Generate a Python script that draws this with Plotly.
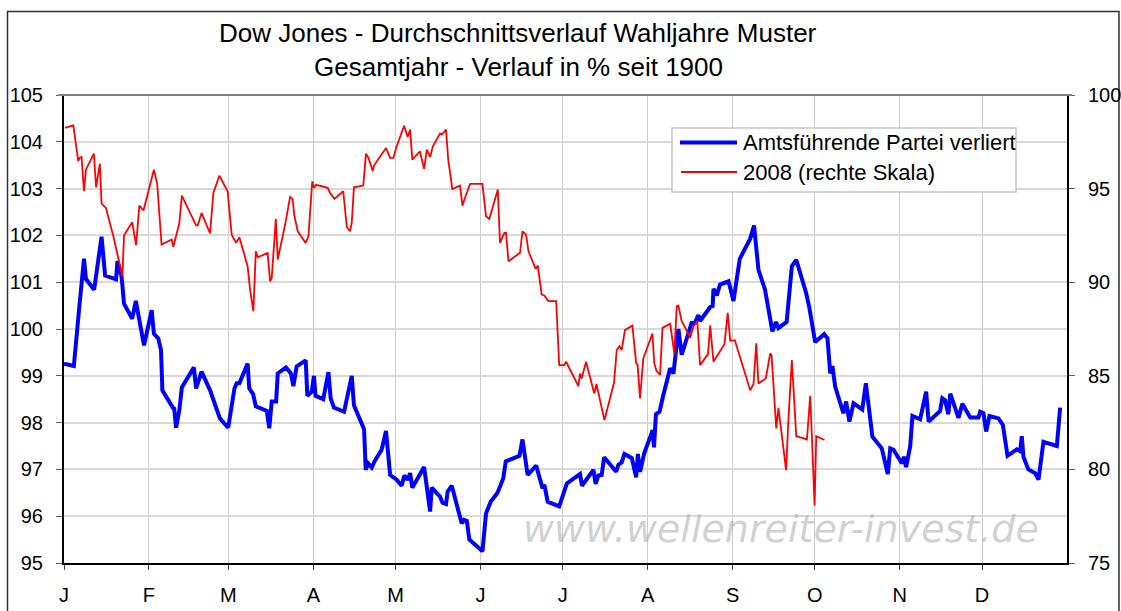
import plotly.graph_objects as go

# ---- data (x = day of year, 2008) ----
month_start_days = [0, 31, 60, 91, 121, 152, 182, 213, 244, 274, 305, 335]
month_labels = ["J", "F", "M", "A", "M", "J", "J", "A", "S", "O", "N", "D"]

blue_days = [0, 3.6, 5.5, 7.3, 8.0, 11.0, 13.7, 15.0, 19.0, 19.5, 21.0, 21.9, 24.9, 26.2, 29.2,
             32.0, 32.8, 34.4, 35.4, 35.9, 39.7, 40.2, 40.9, 42.1, 43.0, 47.4, 48.2, 50.2, 53.3,
             56.9, 59.9, 62.2, 63.0, 64.0, 67.0, 67.6, 69.0, 70.0, 74.0, 74.9, 75.8, 77.4, 78.0,
             81.0, 82.8, 83.7, 84.9, 88.2, 88.8, 90.4, 91.2, 91.8, 94.6, 96.5, 97.3, 98.5, 102.2,
             103.2, 105.0, 105.8, 109.5, 110.1, 111.0, 112.3, 113.5, 115.9, 117.5, 119.0, 121.4,
             123.2, 124.2, 125.4, 126.3, 127.1, 131.4, 133.6, 134.2, 137.2, 138.1, 139.4, 140.0,
             141.5, 145.1, 146.0, 147.0, 147.9, 152.7, 154.0, 155.7, 158.2, 160.3, 161.2, 166.2,
             167.3, 169.2, 172.3, 174.6, 175.3, 176.5, 180.7, 183.5, 188.3, 189.0, 193.2, 194.0,
             195.0, 196.2, 197.1, 201.5, 202.3, 203.5, 204.5, 207.2, 208.8, 209.4, 210.2, 211.7,
             214.8, 215.3, 216.0, 217.3, 218.7, 221.2, 222.4, 224.2, 225.4, 228.4, 229.0, 230.2,
             231.5, 232.1, 235.8, 236.7, 237.0, 238.2, 239.4, 242.5, 244.3, 246.6, 250.4, 251.8,
             253.4, 255.8, 258.5, 259.8, 260.7, 263.7, 265.6, 267.2, 270.8, 272.0, 274.1, 277.4,
             278.6, 279.6, 280.4, 281.4, 284.4, 285.4, 286.6, 288.1, 291.3, 292.6, 295.0, 298.4,
             300.6, 301.5, 302.7, 305.7, 306.5, 307.3, 308.8, 309.6, 312.4, 314.6, 315.5, 319.7,
             320.5, 321.5, 322.7, 323.4, 326.4, 327.8, 330.7, 333.7, 334.3, 335.5, 336.5, 337.7,
             341.0, 342.6, 344.3, 347.7, 348.9, 349.5, 350.1, 351.9, 354.4, 355.6, 357.4, 362.3,
             363.5]
blue_values = [99.26, 99.21, 100.42, 101.5, 101.07, 100.84, 101.97, 101.14, 101.06, 101.45, 101.13,
               100.54, 100.22, 100.6, 99.65, 100.4, 99.9, 99.8, 99.55, 98.69, 98.32, 98.3, 97.89,
               98.27, 98.75, 99.18, 98.73, 99.09, 98.69, 98.09, 97.89, 98.73, 98.84, 98.84, 99.26,
               98.73, 98.61, 98.35, 98.25, 97.88, 98.45, 98.45, 99.05, 99.18, 99.05, 98.78, 99.2,
               99.33, 98.57, 98.66, 99.0, 98.57, 98.5, 99.08, 98.52, 98.32, 98.23, 98.48, 99.0,
               98.37, 97.86, 96.99, 97.13, 97.04, 97.19, 97.42, 97.82, 96.88, 96.78, 96.65, 96.87,
               96.78, 96.92, 96.61, 97.05, 96.1, 96.61, 96.42, 96.29, 96.26, 96.53, 96.65, 95.85,
               95.92, 95.9, 95.5, 95.25, 96.06, 96.31, 96.5, 96.81, 97.17, 97.29, 97.64, 96.88,
               97.08, 96.6, 96.67, 96.31, 96.21, 96.7, 96.9, 96.65, 96.99, 96.69, 96.87, 96.88,
               97.26, 96.95, 97.1, 97.15, 97.33, 97.24, 96.83, 97.33, 96.95, 97.34, 97.84, 97.47,
               98.18, 98.23, 98.59, 99.16, 99.05, 100.0, 99.45, 100.0, 100.13, 100.13, 100.3,
               100.17, 100.47, 100.49, 100.86, 100.72, 100.95, 101.02, 100.6, 101.5, 101.93, 102.21,
               101.27, 100.84, 99.95, 100.15, 100.02, 100.15, 101.34, 101.48, 100.77, 100.45, 99.72,
               99.89, 99.8, 99.05, 99.21, 98.77, 98.2, 98.45, 98.02, 98.41, 98.28, 98.84, 97.7,
               97.45, 96.9, 97.45, 97.42, 97.13, 97.27, 97.05, 97.5, 98.14, 98.07, 98.66, 98.02,
               98.25, 98.52, 98.48, 98.18, 98.62, 98.1, 98.4, 98.11, 98.11, 98.23, 98.2, 97.81,
               98.14, 98.09, 97.95, 97.29, 97.43, 97.39, 97.71, 97.27, 97.0, 96.92, 96.78, 97.59,
               97.5, 98.32]

red_days = [0.4, 3.4, 5.2, 5.7, 6.4, 7.3, 8.0, 10.9, 11.7, 13.1, 13.7, 15.3, 18.0, 21.3, 21.9,
            24.9, 26.3, 27.5, 29.0, 32.8, 34.0, 35.3, 35.6, 39.3, 39.9, 42.1, 43.0, 48.2, 48.8,
            50.2, 53.3, 54.5, 56.7, 59.7, 61.2, 62.8, 64.0, 67.0, 67.9, 69.1, 70.0, 70.7, 74.3,
            75.2, 75.8, 77.3, 78.0, 80.7, 82.5, 83.4, 84.0, 85.3, 88.2, 89.2, 90.6, 91.2, 92.0,
            96.2, 97.1, 98.7, 101.9, 103.2, 104.4, 105.0, 105.8, 109.2, 110.2, 111.1, 112.7,
            113.1, 117.5, 119.0, 120.2, 121.2, 124.1, 125.4, 126.3, 127.1, 129.9, 131.4, 132.4,
            133.6, 134.6, 137.2, 137.8, 138.4, 139.4, 140.2, 141.7, 144.5, 145.4, 146.3, 148.2,
            152.7, 154.0, 155.2, 158.3, 159.1, 160.7, 161.3, 162.2, 166.4, 167.3, 168.6, 169.5,
            172.1, 172.9, 174.3, 175.3, 176.7, 179.6, 180.7, 182.5, 183.2, 187.7, 188.3, 188.9,
            190.5, 193.5, 194.3, 197.2, 200.7, 201.7, 202.7, 203.5, 204.7, 207.4, 208.8, 209.3,
            210.2, 211.4, 214.7, 215.4, 216.2, 217.5, 218.4, 221.2, 222.7, 223.6, 224.2, 225.4,
            226.9, 228.5, 229.7, 231.1, 232.1, 235.0, 235.8, 237.0, 241.0, 242.2, 243.1, 244.8,
            250.4, 251.6, 252.6, 253.4, 256.1, 257.7, 258.2, 259.9, 260.7, 263.5, 264.4, 265.6,
            267.2, 271.1, 272.3, 273.9, 274.5, 277.5]
red_values = [98.24, 98.38, 96.46, 96.64, 96.69, 94.86, 96.01, 96.87, 95.07, 96.33, 94.2, 93.97,
              92.46, 90.32, 92.51, 93.2, 91.98, 94.09, 93.83, 96.01, 95.27, 92.31, 92.01, 92.28,
              91.89, 93.17, 94.63, 93.04, 93.04, 93.7, 92.6, 94.77, 95.69, 94.86, 92.54, 92.1,
              92.4, 90.85, 89.6, 88.45, 91.65, 91.33, 91.56, 90.05, 90.23, 93.38, 91.21, 93.08,
              94.56, 94.45, 93.61, 92.72, 92.1, 92.46, 95.39, 95.04, 95.2, 95.04, 94.77, 94.45,
              94.86, 92.95, 92.72, 93.17, 95.07, 95.16, 96.87, 96.64, 95.93, 96.23, 97.17, 96.64,
              96.64, 97.17, 98.36, 97.76, 98.15, 96.55, 96.99, 96.05, 97.08, 96.69, 97.26, 97.94,
              97.88, 97.97, 98.15, 96.55, 94.98, 95.16, 94.09, 94.5, 95.25, 95.25, 93.52, 93.38,
              94.95, 92.1, 92.63, 92.63, 91.12, 91.57, 92.72, 92.54, 91.65, 90.71, 90.89, 89.34,
              89.29, 88.99, 88.99, 85.57, 85.57, 85.75, 84.45, 85.12, 84.86, 85.75, 84.06, 84.56,
              82.63, 84.63, 86.37, 86.58, 86.37, 87.44, 87.69, 85.66, 85.6, 83.79, 85.93, 87.26,
              85.66, 85.27, 85.04, 87.56, 87.78, 86.19, 88.72, 88.75, 87.92, 87.51, 87.03, 87.65,
              87.92, 85.57, 86.16, 87.69, 85.75, 86.69, 88.36, 86.87, 86.9, 84.23, 84.55, 86.73,
              84.59, 84.86, 86.19, 86.1, 82.19, 83.29, 79.96, 82.81, 85.84, 81.78, 81.6, 83.93,
              78.06, 81.78, 81.57]

series_names = ["Amtsführende Partei verliert", "2008 (rechte Skala)"]
title_lines = ["Dow Jones - Durchschnittsverlauf Wahljahre Muster", "Gesamtjahr - Verlauf in % seit 1900"]
watermark = "www.wellenreiter-invest.de"

# ---- layout geometry (page pixels) ----
W, H = 1121, 611
ML, MR, MT, MB = 64, 54, 95, 48
PW, PH = W - ML - MR, H - MT - MB


def px_x(p):
    return (p - ML) / PW


def px_y(p):
    return (H - MB - p) / PH


FONT = "Arial, Liberation Sans, sans-serif"

fig = go.Figure()
fig.add_trace(go.Scatter(x=blue_days, y=blue_values, mode="lines", name=series_names[0],
                         line=dict(color="#0000FF", width=4), yaxis="y", showlegend=False,
                         hoverinfo="skip"))
fig.add_trace(go.Scatter(x=red_days, y=red_values, mode="lines", name=series_names[1],
                         line=dict(color="#FF0000", width=1.8), yaxis="y2", showlegend=False,
                         hoverinfo="skip"))

shapes = [
    # outer chart border
    dict(type="rect", xref="paper", yref="paper", x0=px_x(7.5), x1=px_x(1119), y0=px_y(640), y1=px_y(11.5),
         line=dict(color="#303030", width=1.5), layer="below"),
    # top border of plot area
    dict(type="line", xref="paper", yref="paper", x0=px_x(58), x1=px_x(1072), y0=1, y1=1,
         line=dict(color="#808080", width=2)),
    # legend box
    dict(type="rect", xref="paper", yref="paper", x0=px_x(672), x1=px_x(1016), y0=px_y(192), y1=px_y(128),
         line=dict(color="#c8c8c8", width=1.5), fillcolor="white"),
    dict(type="line", xref="paper", yref="paper", x0=px_x(680), x1=px_x(737), y0=px_y(142.5), y1=px_y(142.5),
         line=dict(color="#0000FF", width=4)),
    dict(type="line", xref="paper", yref="paper", x0=px_x(681), x1=px_x(737), y0=px_y(172), y1=px_y(172),
         line=dict(color="#FF0000", width=1.8)),
]

annotations = [
    dict(text=title_lines[0], xref="paper", yref="paper", x=px_x(518), y=px_y(33),
         xanchor="center", yanchor="middle", showarrow=False,
         font=dict(family=FONT, size=26, color="black")),
    dict(text=title_lines[1], xref="paper", yref="paper", x=px_x(518), y=px_y(67),
         xanchor="center", yanchor="middle", showarrow=False,
         font=dict(family=FONT, size=26, color="black")),
    dict(text=series_names[0], xref="paper", yref="paper", x=px_x(741), y=px_y(142.5),
         xanchor="left", yanchor="middle", showarrow=False, font=dict(family=FONT, size=22, color="black")),
    dict(text=series_names[1], xref="paper", yref="paper", x=px_x(741), y=px_y(172),
         xanchor="left", yanchor="middle", showarrow=False, font=dict(family=FONT, size=22, color="black")),
    dict(text=watermark, xref="paper", yref="paper", x=px_x(781), y=px_y(529),
         xanchor="center", yanchor="middle", showarrow=False,
         font=dict(family="DejaVu Sans", size=38, color="rgba(170,170,170,0.55)", style="italic")),
]

fig.update_layout(
    width=W, height=H,
    margin=dict(l=ML, r=MR, t=MT, b=MB, pad=0, autoexpand=False),
    paper_bgcolor="white", plot_bgcolor="white",
    showlegend=False,
    font=dict(family=FONT, size=20, color="black"),
    xaxis=dict(range=[0, 366], tickvals=month_start_days, ticktext=month_labels,
               automargin=False,
               showgrid=True, gridcolor="#cccccc", gridwidth=1,
               showline=True, linecolor="black", linewidth=2,
               ticks="outside", ticklen=5, tickcolor="#404040", tickwidth=1,
               ticklabelstandoff=8, zeroline=False,
               tickfont=dict(family=FONT, size=20, color="black")),
    yaxis=dict(range=[95, 105], dtick=1, tick0=95, automargin=False,
               showgrid=True, gridcolor="#d9d9d9", gridwidth=1.5,
               showline=True, linecolor="black", linewidth=2,
               ticks="outside", ticklen=6, tickcolor="#606060", tickwidth=1,
               ticklabelstandoff=9, zeroline=False,
               tickfont=dict(family=FONT, size=20, color="black")),
    yaxis2=dict(range=[75, 100], dtick=5, tick0=75, overlaying="y", side="right",
                automargin=False,
                showgrid=False, showline=True, linecolor="black", linewidth=2,
                ticks="outside", ticklen=6, tickcolor="#606060", tickwidth=1,
                ticklabelstandoff=9, zeroline=False,
                tickfont=dict(family=FONT, size=20, color="black")),
    shapes=shapes,
    annotations=annotations,
)

fig.write_html("out.html", config={"displayModeBar": False},
               post_script="document.body.style.margin='0';document.body.style.overflow='hidden';")
